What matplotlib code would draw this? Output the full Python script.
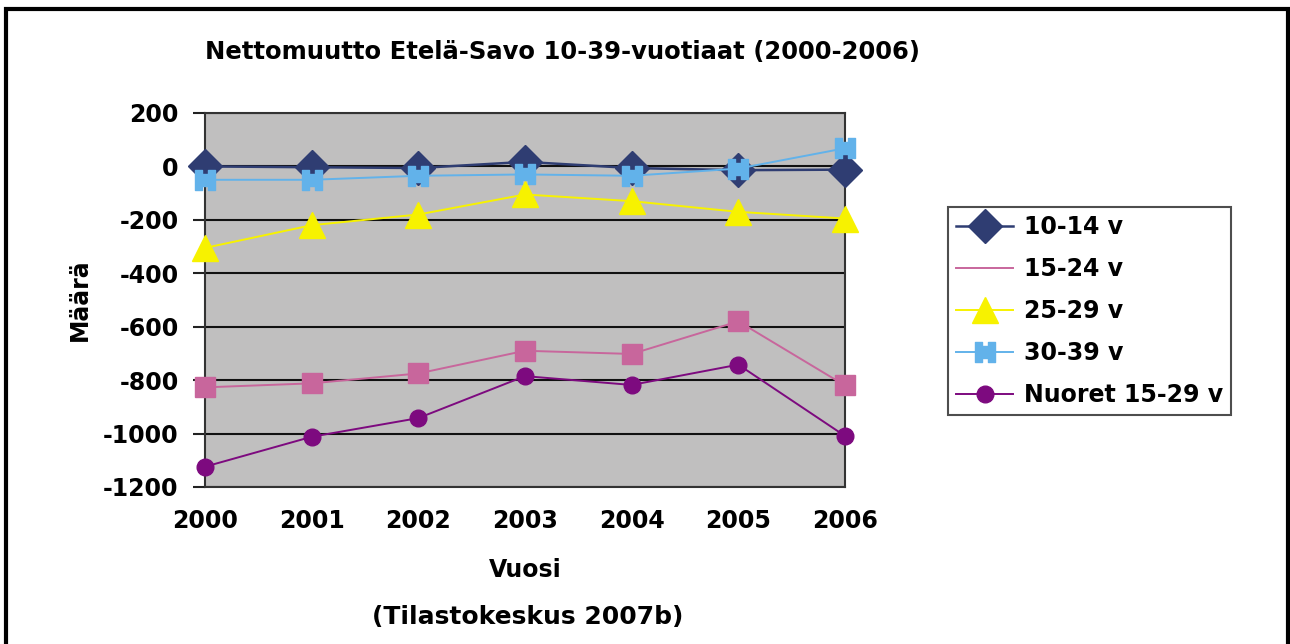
import numpy as np
import matplotlib
matplotlib.use('Agg')
import matplotlib.pyplot as plt
from matplotlib.path import Path
from matplotlib.lines import Line2D
from matplotlib.patches import Rectangle

plt.rcParams['axes.unicode_minus'] = False
plt.rcParams['font.family'] = ['DejaVu Sans']

years = [2000, 2001, 2002, 2003, 2004, 2005, 2006]
v10_14 = [0, -3, -6, 17, -6, -14, -12]
v15_24 = [-827, -812, -775, -690, -702, -580, -820]
v25_29 = [-305, -220, -180, -105, -130, -170, -195]
v30_39 = [-50, -50, -35, -30, -35, -8, 68]
nuoret = [-1124, -1012, -942, -785, -818, -742, -1009]

labels = ['10-14 v', '15-24 v', '25-29 v', '30-39 v', 'Nuoret 15-29 v']
yticks = [200, 0, -200, -400, -600, -800, -1000, -1200]

# notched square marker for 30-39
verts = [(-1, -1), (-0.3, -1), (-0.3, -0.55), (0.3, -0.55), (0.3, -1), (1, -1),
         (1, 1), (0.3, 1), (0.3, 0.55), (-0.3, 0.55), (-0.3, 1), (-1, 1), (-1, -1)]
notch = Path(verts, closed=True)

c_navy = '#2f3d72'
c_pink = '#c8669c'
c_yel = '#f7f200'
c_blue = '#62b2ea'
c_purp = '#7d0a7f'

fig = plt.figure(figsize=(12.9, 6.44), dpi=100)
ax = fig.add_axes([205/1290, 1-487/644, 640/1290, 374/644])
ax.set_facecolor('#c0bfbf')

ax.plot(years, v10_14, color=c_navy, lw=1.8, marker='D', ms=17, mec=c_navy, clip_on=False, zorder=3)
ax.plot(years, v15_24, color=c_pink, lw=1.4, marker='s', ms=14, clip_on=False, zorder=3)
ax.plot(years, v25_29, color=c_yel, lw=1.4, marker='^', ms=19, clip_on=False, zorder=3)
ax.plot(years, v30_39, color=c_blue, lw=1.4, marker=notch, ms=15, clip_on=False, zorder=4)
ax.plot(years, nuoret, color=c_purp, lw=1.4, marker='o', ms=12, clip_on=False, zorder=4)

ax.set_xlim(2000, 2006)
ax.set_ylim(-1200, 200)
ax.set_xticks(years)
ax.set_xticklabels([str(y) for y in years], fontsize=17, fontweight='bold')
ax.set_yticks(yticks)
ax.set_yticklabels([str(t) for t in yticks], fontsize=17, fontweight='bold')
ax.tick_params(axis='x', length=0, pad=16)
ax.tick_params(axis='y', length=9, width=1.5, color='#222222', pad=10)
ax.grid(axis='y', color='#111111', lw=1.5)
ax.set_axisbelow(True)
for s in ax.spines.values():
    s.set_color('#333333')
    s.set_linewidth(1.5)

ax.set_xlabel('Vuosi', fontsize=17, fontweight='bold', labelpad=18)
ax.set_ylabel('Määrä', fontsize=17, fontweight='bold', labelpad=8)

fig.text(205/1290, 1-52/644, 'Nettomuutto Etelä-Savo 10-39-vuotiaat (2000-2006)',
         fontsize=17.5, fontweight='bold', va='center', ha='left')
fig.text(528/1290, 1-617/644, '(Tilastokeskus 2007b)', fontsize=18,
         fontweight='bold', ha='center', va='center')

handles = [
    Line2D([], [], color=c_navy, lw=1.8, marker='D', ms=17),
    Line2D([], [], color=c_pink, lw=1.4),
    Line2D([], [], color=c_yel, lw=1.4, marker='^', ms=19),
    Line2D([], [], color=c_blue, lw=1.4, marker=notch, ms=15),
    Line2D([], [], color=c_purp, lw=1.4, marker='o', ms=12),
]
leg = fig.legend(handles, labels, loc='upper left', bbox_to_anchor=(948/1290, 1-207/644),
                 prop={'size': 17, 'weight': 'bold'}, frameon=True, fancybox=False,
                 edgecolor='#222222', handlelength=2.4, labelspacing=0.76,
                 borderpad=0.35, handletextpad=0.45, borderaxespad=0)
leg.get_frame().set_linewidth(1.5)

# outer frame
fig.patches.append(Rectangle((6/1290, -0.05), 1282/1290, 1.05 - 9/644,
                             transform=fig.transFigure, fill=False,
                             edgecolor='black', lw=3))

fig.savefig('out.png', dpi=100, facecolor='white')
